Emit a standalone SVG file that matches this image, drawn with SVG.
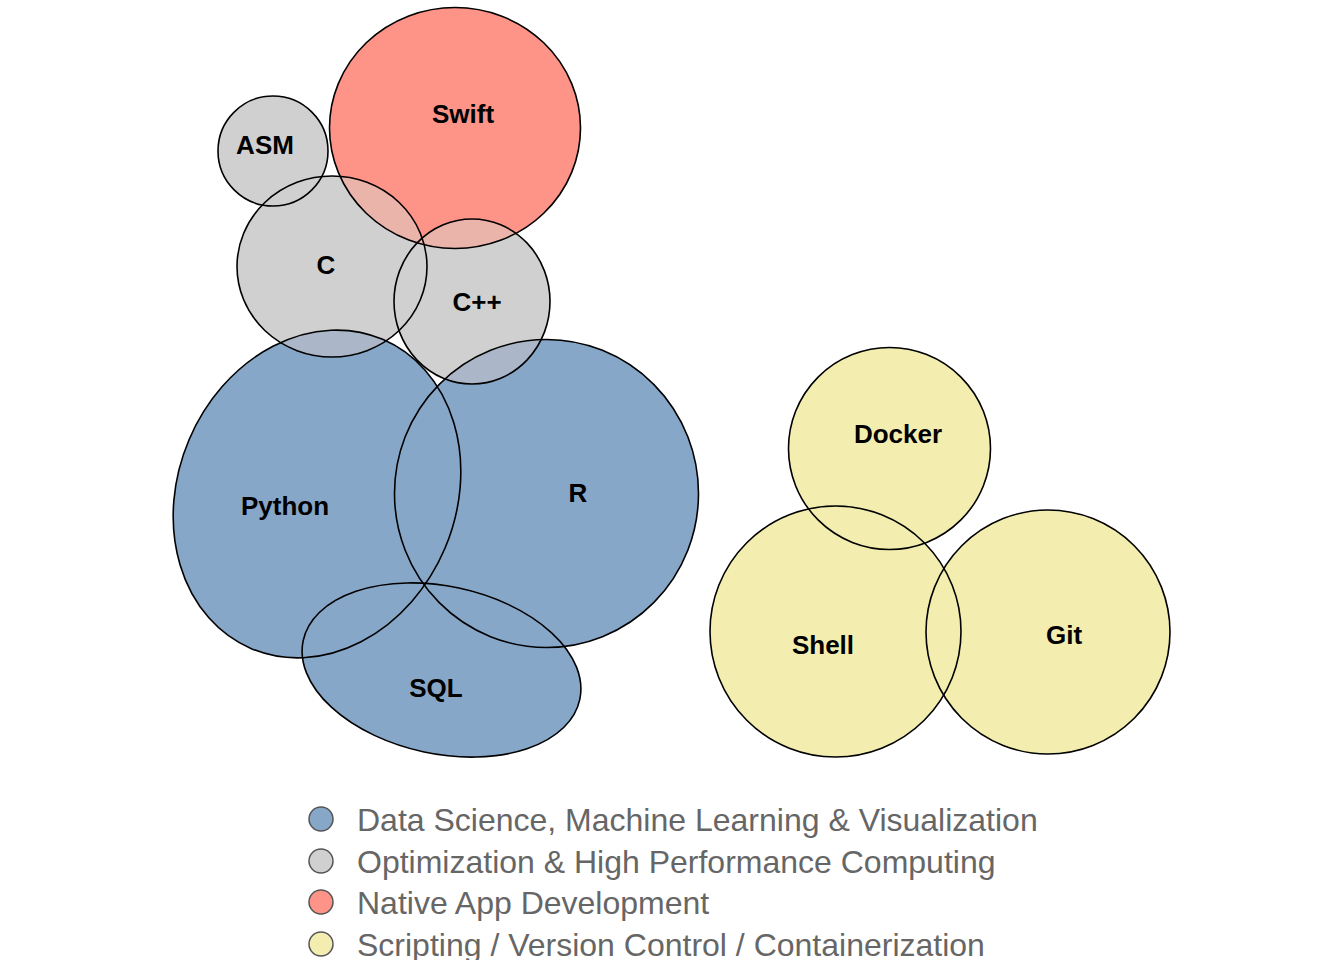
<svg xmlns="http://www.w3.org/2000/svg" xmlns:xlink="http://www.w3.org/1999/xlink" width="1344" height="960" viewBox="0 0 1344 960">
<style>
.lbl{font-family:"Liberation Sans",Arial,sans-serif;font-weight:bold;font-size:26px;fill:#000;text-anchor:middle;dominant-baseline:central}
.leg{font-family:"Liberation Sans",Arial,sans-serif;font-size:32px;fill:#666}
.ol{fill:none;stroke:#000;stroke-width:1.6}
.blue{fill:#87a7c9}.gray{fill:#d0d0d0}.red{fill:#fd9487}.yel{fill:#f3eeb0}
.gb{fill:#abb6c8}.rg{fill:#eab4aa}
.lc{stroke:#555;stroke-width:1.5}
</style>
<defs>
<ellipse id="s-asm" cx="273" cy="151" rx="55" ry="55"/>
<ellipse id="s-swift" cx="455" cy="128" rx="125.5" ry="120.5"/>
<ellipse id="s-c" cx="332" cy="266.5" rx="95" ry="90.5"/>
<ellipse id="s-cpp" cx="472" cy="301.5" rx="78" ry="82.5"/>
<ellipse id="s-python" cx="317" cy="494" rx="139" ry="168" transform="rotate(23 317 494)"/>
<ellipse id="s-r" cx="546.5" cy="493.5" rx="152" ry="154"/>
<ellipse id="s-sql" cx="441.5" cy="670" rx="141.4" ry="83.8" transform="rotate(12 441.5 670)"/>
<ellipse id="s-docker" cx="889.5" cy="448.5" rx="101" ry="101"/>
<ellipse id="s-shell" cx="835.5" cy="631.5" rx="125.5" ry="125.5"/>
<ellipse id="s-git" cx="1048" cy="632" rx="122" ry="122"/>
<clipPath id="cp-python"><use xlink:href="#s-python"/></clipPath>
<clipPath id="cp-r"><use xlink:href="#s-r"/></clipPath>
<clipPath id="cp-swift"><use xlink:href="#s-swift"/></clipPath>
</defs>
<g id="node-python"><use xlink:href="#s-python" class="blue"/><text class="lbl" x="285" y="506">Python</text></g>
<g id="node-r"><use xlink:href="#s-r" class="blue"/><text class="lbl" x="578" y="493">R</text></g>
<g id="node-sql"><use xlink:href="#s-sql" class="blue"/><text class="lbl" x="436" y="688">SQL</text></g>
<g id="node-asm"><use xlink:href="#s-asm" class="gray"/><text class="lbl" x="265" y="145">ASM</text></g>
<g id="node-c"><use xlink:href="#s-c" class="gray"/><text class="lbl" x="326" y="265">C</text></g>
<g id="node-cpp"><use xlink:href="#s-cpp" class="gray"/><text class="lbl" x="477" y="302">C++</text></g>
<g id="node-swift"><use xlink:href="#s-swift" class="red"/><text class="lbl" x="463" y="114">Swift</text></g>
<g id="node-docker"><use xlink:href="#s-docker" class="yel"/><text class="lbl" x="898" y="434">Docker</text></g>
<g id="node-shell"><use xlink:href="#s-shell" class="yel"/><text class="lbl" x="823" y="645">Shell</text></g>
<g id="node-git"><use xlink:href="#s-git" class="yel"/><text class="lbl" x="1064" y="635">Git</text></g>
<g id="overlaps">
<use xlink:href="#s-c" class="gb" clip-path="url(#cp-python)"/>
<use xlink:href="#s-cpp" class="gb" clip-path="url(#cp-python)"/>
<use xlink:href="#s-cpp" class="gb" clip-path="url(#cp-r)"/>
<use xlink:href="#s-c" class="rg" clip-path="url(#cp-swift)"/>
<use xlink:href="#s-cpp" class="rg" clip-path="url(#cp-swift)"/>
</g>
<g id="outlines">
<use xlink:href="#s-asm" class="ol"/>
<use xlink:href="#s-swift" class="ol"/>
<use xlink:href="#s-c" class="ol"/>
<use xlink:href="#s-cpp" class="ol"/>
<use xlink:href="#s-python" class="ol"/>
<use xlink:href="#s-r" class="ol"/>
<use xlink:href="#s-sql" class="ol"/>
<use xlink:href="#s-docker" class="ol"/>
<use xlink:href="#s-shell" class="ol"/>
<use xlink:href="#s-git" class="ol"/>
</g>
<g id="legend">
<circle cx="321" cy="819" r="12" class="blue lc"/>
<text class="leg" x="357" y="831">Data Science, Machine Learning &amp; Visualization</text>
<circle cx="321" cy="861" r="12" class="gray lc"/>
<text class="leg" x="357" y="873">Optimization &amp; High Performance Computing</text>
<circle cx="321" cy="902" r="12" class="red lc"/>
<text class="leg" x="357" y="914">Native App Development</text>
<circle cx="321" cy="944" r="12" class="yel lc"/>
<text class="leg" x="357" y="956">Scripting / Version Control / Containerization</text>
</g>
</svg>
